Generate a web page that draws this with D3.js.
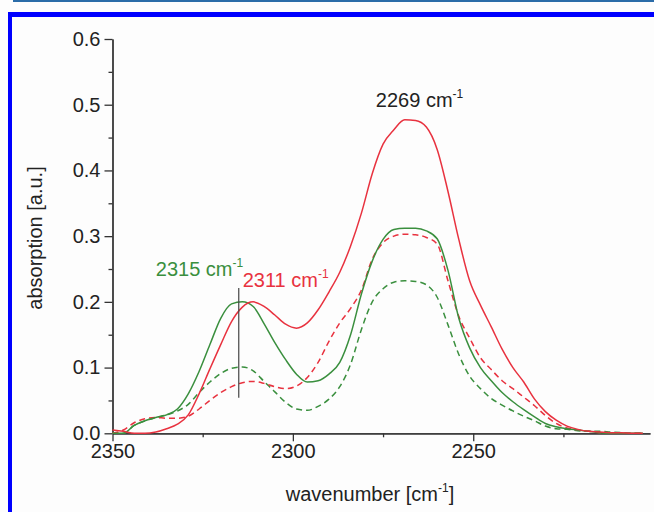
<!DOCTYPE html>
<html>
<head>
<meta charset="utf-8">
<script src="https://d3js.org/d3.v7.min.js"></script>
<style>
body{margin:0;background:#fdfdfd;}
svg text{font-family:"Liberation Sans",Arial,sans-serif;fill:#222;}
.axis path,.axis line{stroke:#333;stroke-width:1.3px;}
</style>
</head>
<body>
<div id="chart"></div>
<script>
// wavenumber grid (cm-1) shared by all four spectra
var wavenumbers=[2350,2347,2344,2341,2338,2335,2332,2329,2326,2323,2320,2317,2314,2311,2308,2305,2302,2299,2296,2293,2290,2287,2284,2281,2278,2275,2272,2269,2266,2263,2260,2257,2254,2251,2248,2245,2242,2239,2236,2233,2230,2227,2224,2221,2218,2215,2212,2209,2206,2203];

var redSolid=[0.005,0.003,0.0,0.0,0.002,0.007,0.014,0.028,0.060,0.098,0.135,0.170,0.192,0.200,0.193,0.180,0.166,0.160,0.168,0.188,0.215,0.245,0.285,0.335,0.395,0.440,0.462,0.477,0.476,0.466,0.432,0.368,0.295,0.232,0.195,0.162,0.128,0.100,0.078,0.052,0.033,0.020,0.011,0.006,0.003,0.002,0.001,0.001,0.0,0.0];
var greenSolid=[0.0,0.0,0.012,0.019,0.024,0.028,0.037,0.060,0.094,0.135,0.175,0.197,0.200,0.193,0.167,0.138,0.112,0.090,0.078,0.080,0.090,0.108,0.150,0.212,0.262,0.295,0.310,0.312,0.312,0.308,0.296,0.248,0.175,0.130,0.100,0.080,0.062,0.048,0.036,0.025,0.015,0.010,0.007,0.005,0.003,0.001,0.0,0.0,0.0,0.0];
var redDashed=[0.0,0.005,0.016,0.022,0.024,0.023,0.023,0.026,0.037,0.050,0.062,0.071,0.077,0.079,0.076,0.071,0.068,0.072,0.085,0.108,0.140,0.168,0.190,0.218,0.265,0.290,0.300,0.303,0.302,0.298,0.288,0.232,0.178,0.145,0.115,0.097,0.080,0.068,0.055,0.042,0.027,0.015,0.008,0.005,0.003,0.001,0.0,0.0,0.0,0.0];
var greenDashed=[0.0,0.0,0.012,0.019,0.024,0.028,0.034,0.044,0.062,0.078,0.091,0.099,0.101,0.095,0.079,0.063,0.047,0.037,0.035,0.041,0.052,0.071,0.105,0.158,0.200,0.220,0.230,0.232,0.231,0.226,0.207,0.165,0.120,0.087,0.068,0.053,0.043,0.034,0.026,0.019,0.011,0.007,0.006,0.004,0.003,0.003,0.002,0.001,0.0,0.0];

var yMajor=[0,0.1,0.2,0.3,0.4,0.5,0.6];
var yMinor=[0.05,0.15,0.25,0.35,0.45,0.55];
var xMajor=[2350,2300,2250];
var xMinor=[2325,2275,2225];

var red="#e8323f", green="#3a8f3e";

var width=654, height=512;
var svg=d3.select("#chart").append("svg")
	.attr("width",width)
	.attr("height",height);

// page frame
svg.append("rect").attr("x",13).attr("y",0).attr("width",641).attr("height",2).attr("fill","#2b6ca8");
svg.append("rect").attr("x",8).attr("y",12).attr("width",646).attr("height",5).attr("fill","#0000ff");
svg.append("rect").attr("x",8).attr("y",12).attr("width",4).attr("height",500).attr("fill","#0000ff");

var x=d3.scaleLinear().domain([2350,2201]).range([112.5,650]);
var y=d3.scaleLinear().domain([0,0.6]).range([433.3,39]);

// axes
svg.append("g")
	.attr("class","axis")
	.attr("transform","translate(0,"+y(0)+")")
	.call(d3.axisBottom(x).tickValues(xMinor).tickSize(4).tickSizeOuter(0).tickFormat(""));
var xAxis=svg.append("g")
	.attr("class","axis")
	.attr("transform","translate(0,"+y(0)+")")
	.call(d3.axisBottom(x).tickValues(xMajor).tickSize(8).tickSizeOuter(0).tickPadding(3).tickFormat(d3.format("d")));
xAxis.selectAll("text").style("font-size","20px");

svg.append("g")
	.attr("class","axis")
	.attr("transform","translate("+x(2350)+",0)")
	.call(d3.axisLeft(y).tickValues(yMinor).tickSize(4).tickSizeOuter(0).tickFormat(""));
var yAxis=svg.append("g")
	.attr("class","axis")
	.attr("transform","translate("+x(2350)+",0)")
	.call(d3.axisLeft(y).tickValues(yMajor).tickSize(8).tickSizeOuter(0).tickPadding(4).tickFormat(d3.format(".1f")));
yAxis.selectAll("text").style("font-size","20px");
svg.selectAll(".axis text").style("fill","#222").style("font-family","\"Liberation Sans\",Arial,sans-serif");

// spectra
var series=[
	{values:greenDashed,color:green,dash:"6,4"},
	{values:redDashed,color:red,dash:"6,4"},
	{values:greenSolid,color:green,dash:null},
	{values:redSolid,color:red,dash:null}
];
var line=d3.line()
	.x(function(d){return x(d[0]);})
	.y(function(d){return y(d[1]);})
	.curve(d3.curveMonotoneX);

svg.selectAll(".spectrum")
	.data(series)
	.enter()
	.append("path")
	.attr("class","spectrum")
	.attr("fill","none")
	.attr("stroke",function(d){return d.color;})
	.attr("stroke-width",1.5)
	.attr("stroke-dasharray",function(d){return d.dash;})
	.attr("d",function(d){
		return line(wavenumbers.map(function(w,i){return [w,d.values[i]];}));
	});

// marker line at 2315
svg.append("line")
	.attr("x1",x(2315)).attr("x2",x(2315))
	.attr("y1",y(0.221)).attr("y2",y(0.054))
	.attr("stroke","#444")
	.attr("stroke-width",1.2);

// peak labels
var labels=[
	{text:"2269 cm",wn:2277,v:0.497,color:"#222"},
	{text:"2315 cm",wn:2338,v:0.240,color:green},
	{text:"2311 cm",wn:2313.9,v:0.223,color:red}
];
labels.forEach(function(l){
	var t=svg.append("text")
		.attr("x",x(l.wn))
		.attr("y",y(l.v))
		.style("font-size","20px")
		.style("fill",l.color)
		.text(l.text);
	t.append("tspan")
		.attr("dy",-9)
		.style("font-size","12px")
		.text("-1");
});

// axis titles
var xt=svg.append("text")
	.attr("x",370)
	.attr("y",501)
	.attr("text-anchor","middle")
	.style("font-size","20px")
	.text("wavenumber [cm");
xt.append("tspan").attr("dy",-9).style("font-size","12px").text("-1");
xt.append("tspan").attr("dy",9).text("]");

svg.append("text")
	.attr("transform","translate(42,238) rotate(-90)")
	.attr("text-anchor","middle")
	.style("font-size","20px")
	.text("absorption [a.u.]");
</script>
</body>
</html>
